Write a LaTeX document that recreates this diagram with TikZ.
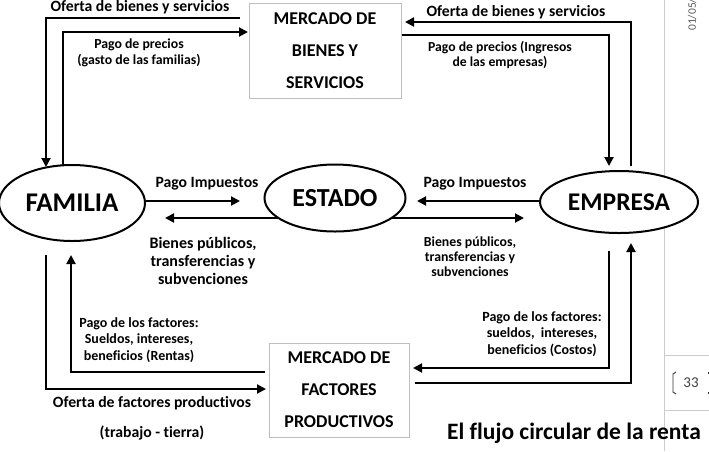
\documentclass[tikz,border=0pt]{standalone}
\usepackage{fontspec}
\setmainfont{Carlito}[Ligatures=NoCommon]
\usetikzlibrary{arrows.meta,shapes.geometric}
\begin{document}
\begin{tikzpicture}[x=1pt,y=-1pt,
  flow/.style={line width=2pt,-{Triangle[length=9pt,width=9pt]}},
  agent/.style={ellipse,draw,line width=2pt,fill=white,inner sep=0pt},
  market/.style={draw=black!25,line width=0.8pt,fill=white,inner sep=0pt,align=center,font=\bfseries\fontsize{18}{32}\selectfont},
  lbl/.style={font=\bfseries\fontsize{15.7}{16}\selectfont,align=center,inner sep=0pt},
  slbl/.style={font=\bfseries\fontsize{14}{16.5}\selectfont,align=center,inner sep=0pt},
  pagegrey/.style={draw=black!20,line width=0.8pt}]
\useasboundingbox (0,0) rectangle (709,451);

% page artefacts
\draw[pagegrey] (664,0) coordinate (pv1) -- (664,451) coordinate (pv2);
\draw[pagegrey] (664,355) coordinate (ph1) -- (709,355) coordinate (ph2);
\draw[pagegrey] (664,410) coordinate (ph3) -- (709,410) coordinate (ph4);
\node[rotate=90,anchor=west,inner sep=0pt,font=\fontsize{11.5}{12}\selectfont,text=black!65] (date) at (692,31) {01/05/};
\node[inner sep=0pt,font=\rmfamily\fontsize{15}{16}\selectfont,text=black!75] (pnum) at (691,383) {33};
\draw[line width=0.9pt,black!80] (676,372) coordinate (b1) -- (673,374) -- (673,392) -- (676,394) coordinate (b2);
\draw[line width=0.9pt,black!80] (708,372) coordinate (b3) -- (708,374) coordinate (b4);
\draw[line width=0.9pt,black!80] (708,392) coordinate (b5) -- (708,394) coordinate (b6);

% main parts
\node[agent,minimum width=146pt,minimum height=76pt,font=\bfseries\fontsize{27}{30}\selectfont] (fam) at (72,203) {FAMILIA};
\node[agent,minimum width=158pt,minimum height=62pt,font=\bfseries\fontsize{25.5}{30}\selectfont] (emp) at (619,202) {EMPRESA};
\node[market,minimum width=152pt,minimum height=95pt] (mb) at (325,50.5) {MERCADO DE\\BIENES Y\\SERVICIOS};
\node[market,minimum width=140pt,minimum height=94pt] (mf) at (339,390) {MERCADO DE\\FACTORES\\PRODUCTIVOS};

% goods market, left
\coordinate (tl1) at (240,18);
\coordinate (fa1) at (46,167);
\draw[flow] (tl1) -| (fa1);
\coordinate (fa2) at (63,165);
\coordinate (tl2) at (248,32);
\draw[flow] (fa2) |- (tl2);
\node[lbl] (l1) at (140,7) {Oferta de bienes y servicios};
\node[slbl,font=\bfseries\fontsize{13.8}{16}\selectfont] (l2) at (139,53) {Pago de precios\\(gasto de las familias)};

% goods market, right
\coordinate (em1) at (631,166);
\coordinate (tr1) at (405,22);
\draw[flow] (em1) |- (tr1);
\coordinate (tr2) at (402,35);
\coordinate (em2) at (609,166);
\draw[flow] (tr2) -| (em2);
\node[lbl] (l3) at (516,12) {Oferta de bienes y servicios};
\node[slbl,font=\bfseries\fontsize{13.7}{15}\selectfont] (l4) at (500,54.5) {Pago de precios (Ingresos\\de las empresas)};

% state
\coordinate (p1) at (240,201);
\draw[flow] (fam.east |- p1) -- (p1);
\coordinate (p2) at (417,201);
\draw[flow] (emp.west |- p2) -- (p2);
\coordinate (g1) at (165,218);
\coordinate (g2) at (524,218);
\draw[line width=2pt,{Triangle[length=9pt,width=9pt]}-{Triangle[length=9pt,width=9pt]}] (g1) -- (g2);
\node[agent,minimum width=141pt,minimum height=67pt,font=\bfseries\fontsize{26}{30}\selectfont] (est) at (335,198) {ESTADO};
\node[lbl] (l5) at (207,184) {Pago Impuestos};
\node[lbl] (l6) at (475,184) {Pago Impuestos};
\node[lbl,font=\bfseries\fontsize{16}{18}\selectfont] (l7) at (203,261) {Bienes públicos,\\transferencias y\\subvenciones};
\node[slbl,font=\bfseries\fontsize{13.8}{15}\selectfont] (l8) at (470,257) {Bienes públicos,\\transferencias y\\subvenciones};

% factor market, left
\coordinate (fb1) at (46,255);
\coordinate (bl1) at (266,389);
\draw[flow] (fb1) |- (bl1);
\coordinate (bl2) at (265,372);
\coordinate (fb2) at (71,255);
\draw[flow] (bl2) -| (fb2);
\node[slbl] (l9) at (139,340) {Pago de los factores:\\Sueldos, intereses,\\beneficios (Rentas)};
\node[lbl] (l10) at (152,403) {Oferta de factores productivos};
\node[lbl] (l11) at (152,433) {(trabajo - tierra)};

% factor market, right
\coordinate (eb1) at (609,251);
\coordinate (br1) at (413,368);
\draw[flow] (eb1) |- (br1);
\coordinate (br2) at (415,383);
\coordinate (eb2) at (631,243);
\draw[flow] (br2) -| (eb2);
\node[slbl] (l12) at (542,334) {Pago de los factores:\\sueldos,\ \ intereses,\\beneficios (Costos)};

\node[inner sep=0pt,font=\bfseries\fontsize{23.5}{24}\selectfont] (title) at (574,433) {El flujo circular de la renta};
\end{tikzpicture}
\end{document}
